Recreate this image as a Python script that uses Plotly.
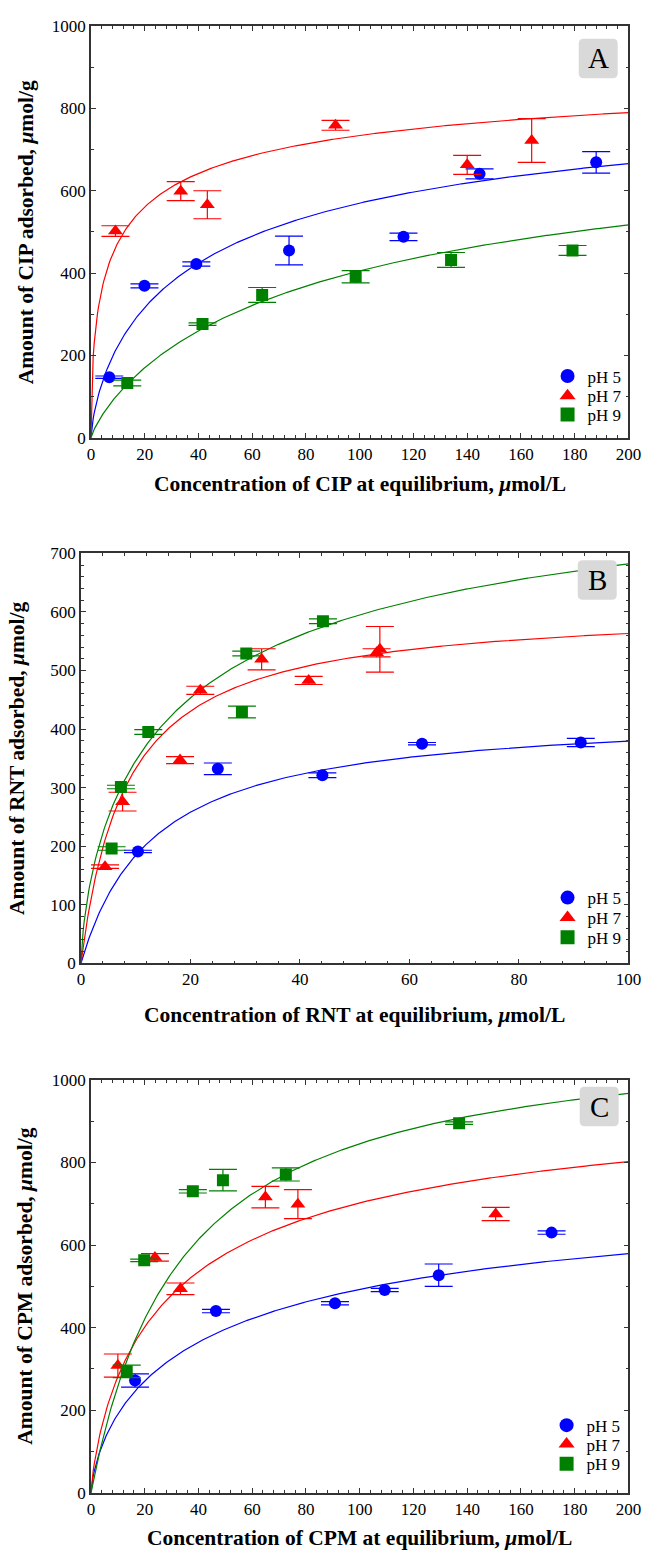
import numpy as np
import plotly.graph_objects as go

W, H = 657, 1565
FONT = "Liberation Serif"
BLUE, RED, GREEN = "#0000ff", "#ff0000", "#008000"

# ---------------- data ----------------
# Panel A: CIP
cip_ph5_x = [6.8, 19.9, 39.2, 73.7, 116.3, 144.6, 188.0]
cip_ph5_y = [147, 369, 422, 455, 488, 641, 669]
cip_ph5_e = [3, 5, 5, 35, 9, 12, 26]
cip_ph7_x = [9.1, 33.4, 43.3, 91.0, 140.0, 164.0]
cip_ph7_y = [502, 599, 566, 759, 663, 722]
cip_ph7_e = [13, 23, 34, 12, 23, 53]
cip_ph9_x = [13.5, 41.5, 63.7, 98.5, 134.0, 179.2]
cip_ph9_y = [133, 276, 347, 391, 432, 455]
cip_ph9_e = [7, 3, 18, 15, 18, 12]

# Panel B: RNT
rnt_ph5_x = [10.4, 25.0, 44.1, 62.3, 91.3]
rnt_ph5_y = [191, 332, 321, 375, 377]
rnt_ph5_e = [2, 10, 4, 2, 7]
rnt_ph7_x = [4.4, 7.6, 18.1, 21.8, 33.0, 41.6, 54.0, 54.6]
rnt_ph7_y = [165, 276, 347, 466, 519, 483, 530, 536]
rnt_ph7_e = [3, 16, 6, 7, 18, 7, 7, 39]
rnt_ph9_x = [5.6, 7.3, 12.3, 29.4, 30.2, 44.2]
rnt_ph9_y = [196, 301, 395, 429, 529, 584]
rnt_ph9_e = [3, 3, 4, 10, 4, 4]

# Panel C: CPM
cpm_ph5_x = [16.4, 46.5, 90.8, 109.3, 129.4, 171.4]
cpm_ph5_y = [272, 440, 459, 491, 527, 630]
cpm_ph5_e = [16, 4, 4, 4, 27, 4]
cpm_ph7_x = [10.0, 23.8, 33.3, 64.9, 77.0, 150.6]
cpm_ph7_y = [308, 570, 494, 716, 699, 675]
cpm_ph7_e = [28, 9, 14, 26, 35, 16]
cpm_ph9_x = [13.3, 19.8, 37.9, 49.1, 72.5, 137.0]
cpm_ph9_y = [294, 563, 730, 757, 771, 895]
cpm_ph9_e = [15, 3, 4, 26, 16, 3]

# fitted isotherm parameters (Langmuir-Freundlich): qmax, K, n  for pH 5, 7, 9
cip_fit = [(900, 0.02137, 0.72), (950, 0.0989, 0.535), (800, 0.01033, 0.83)]
rnt_fit = [(430, 0.075, 1.0), (610, 0.12, 1.0), (900, 0.051, 0.70)]
cpm_fit = [(800, 0.01946, 0.71), (1000, 0.030, 0.78), (1130, 0.0297, 1.0)]

series_labels = ["pH 5", "pH 7", "pH 9"]
panel_letters = ["A", "B", "C"]
x_titles = ["Concentration of CIP at equilibrium, <i>\u03bc</i>mol/L",
            "Concentration of RNT at equilibrium, <i>\u03bc</i>mol/L",
            "Concentration of CPM at equilibrium, <i>\u03bc</i>mol/L"]
y_titles = ["Amount of CIP adsorbed, <i>\u03bc</i>mol/g",
            "Amount of RNT adsorbed, <i>\u03bc</i>mol/g",
            "Amount of CPM adsorbed, <i>\u03bc</i>mol/g"]

# ---------------- layout geometry (pixels) ----------------
panels = [
    dict(l=89.3, r=641, t=17.3, b=434, xmax=200, ymax=1000, xd=20, xm=4, yd=200, ym=100,
         box=(590, 630, 30, 70), legx=558, legy=(372, 392, 411), ytx=22, xty=481),
    dict(l=79, r=641, t=551, b=966, xmax=100, ymax=700, xd=20, xm=4, yd=100, ym=20,
         box=(589, 629, 558, 598), legx=558, legy=(900, 920, 940), ytx=14, xty=1018),
    dict(l=89.3, r=641, t=1084, b=1502, xmax=200, ymax=1000, xd=20, xm=4, yd=200, ym=100,
         box=(591, 631, 1091, 1131), legx=557, legy=(1434, 1453, 1473), ytx=22, xty=1548),
]

def px(x):
    return x / W

def py(y):
    return 1 - y / H

def isotherm(x, qm, k, n):
    kx = np.power(k * x, n)
    return qm * kx / (1 + kx)

data_sets = [
    [(cip_ph5_x, cip_ph5_y, cip_ph5_e), (cip_ph7_x, cip_ph7_y, cip_ph7_e), (cip_ph9_x, cip_ph9_y, cip_ph9_e)],
    [(rnt_ph5_x, rnt_ph5_y, rnt_ph5_e), (rnt_ph7_x, rnt_ph7_y, rnt_ph7_e), (rnt_ph9_x, rnt_ph9_y, rnt_ph9_e)],
    [(cpm_ph5_x, cpm_ph5_y, cpm_ph5_e), (cpm_ph7_x, cpm_ph7_y, cpm_ph7_e), (cpm_ph9_x, cpm_ph9_y, cpm_ph9_e)],
]
fits = [cip_fit, rnt_fit, cpm_fit]
colors = [BLUE, RED, GREEN]
symbols = ["circle", "triangle-up", "square"]
msizes = [12, 13, 12]

fig = go.Figure()
layout = dict(width=W, height=H, margin=dict(l=0, r=0, t=0, b=0),
              paper_bgcolor="white", plot_bgcolor="white",
              font=dict(family=FONT, size=16, color="black"),
              shapes=[], annotations=[])

leg_count = 0
for p, pan in enumerate(panels):
    sfx = "" if p == 0 else str(p + 1)
    xa, ya = "x" + sfx, "y" + sfx
    # fitted curves
    for s in range(3):
        qm, k, n = fits[p][s]
        xc = np.linspace(0, pan["xmax"], 500)
        fig.add_trace(go.Scatter(x=xc, y=isotherm(xc, qm, k, n), mode="lines",
                                 line=dict(color=colors[s], width=1.2),
                                 xaxis=xa, yaxis=ya, showlegend=False, hoverinfo="skip"))
    # data points with error bars
    for s in range(3):
        xs, ys, es = data_sets[p][s]
        fig.add_trace(go.Scatter(x=xs, y=ys, mode="markers",
                                 marker=dict(color=colors[s], symbol=symbols[s], size=msizes[s]),
                                 error_y=dict(type="data", array=es, visible=True,
                                              color=colors[s], thickness=1.2, width=14),
                                 xaxis=xa, yaxis=ya, showlegend=False))
    # legend entries: one legend per item for exact row spacing
    for s in range(3):
        leg_count += 1
        lname = "legend" if leg_count == 1 else f"legend{leg_count}"
        fig.add_trace(go.Scatter(x=[None], y=[None], mode="markers", name=series_labels[s],
                                 marker=dict(color=colors[s], symbol=symbols[s], size=14),
                                 xaxis=xa, yaxis=ya, showlegend=True, legend=lname))
        layout[lname] = dict(x=px(pan["legx"]), y=py(pan["legy"][s]), xanchor="left", yanchor="middle",
                             bgcolor="rgba(0,0,0,0)", borderwidth=0,
                             font=dict(family=FONT, size=17, color="black"),
                             itemwidth=30)
    axis_common = dict(showline=True, linecolor="#333333", linewidth=1.5, mirror="allticks",
                       ticks="inside", ticklen=5, tickwidth=1, tickcolor="#333333",
                       showgrid=False, zeroline=False, ticklabeloverflow="allow",
                       tickfont=dict(family=FONT, size=17, color="black"))
    layout["xaxis" + sfx] = dict(axis_common, domain=[px(pan["l"]), px(pan["r"])],
                                 range=[0, pan["xmax"]], dtick=pan["xd"], tick0=0, anchor=ya,
                                 minor=dict(dtick=pan["xm"], ticks="inside", ticklen=3,
                                            tickcolor="#333333", showgrid=False))
    layout["yaxis" + sfx] = dict(axis_common, domain=[py(pan["b"]), py(pan["t"])],
                                 range=[0, pan["ymax"]], dtick=pan["yd"], tick0=0, anchor=xa,
                                 minor=dict(dtick=pan["ym"], ticks="inside", ticklen=3,
                                            tickcolor="#333333", showgrid=False))
    # panel letter box (rounded)
    x0, x1, y0, y1 = pan["box"]
    r = 5
    path = (f"M {px(x0 + r)},{py(y0)} L {px(x1 - r)},{py(y0)} Q {px(x1)},{py(y0)} {px(x1)},{py(y0 + r)} "
            f"L {px(x1)},{py(y1 - r)} Q {px(x1)},{py(y1)} {px(x1 - r)},{py(y1)} "
            f"L {px(x0 + r)},{py(y1)} Q {px(x0)},{py(y1)} {px(x0)},{py(y1 - r)} "
            f"L {px(x0)},{py(y0 + r)} Q {px(x0)},{py(y0)} {px(x0 + r)},{py(y0)} Z")
    layout["shapes"].append(dict(type="path", xref="paper", yref="paper", path=path,
                                 fillcolor="#d9d9d9", line=dict(width=0), layer="above"))
    layout["annotations"].append(dict(x=px((x0 + x1) / 2), y=py((y0 + y1) / 2), xref="paper", yref="paper",
                                      text=panel_letters[p], showarrow=False,
                                      font=dict(family=FONT, size=29, color="black"),
                                      xanchor="center", yanchor="middle"))
    # axis titles
    layout["annotations"].append(dict(x=px((pan["l"] + pan["r"]) / 2), y=py(pan["xty"]),
                                      xref="paper", yref="paper", text="<b>" + x_titles[p] + "</b>",
                                      showarrow=False, xanchor="center", yanchor="middle",
                                      font=dict(family=FONT, size=21.5, color="black")))
    layout["annotations"].append(dict(x=px(pan["ytx"]), y=py((pan["t"] + pan["b"]) / 2),
                                      xref="paper", yref="paper", text="<b>" + y_titles[p] + "</b>",
                                      showarrow=False, xanchor="center", yanchor="middle", textangle=-90,
                                      font=dict(family=FONT, size=21.5, color="black")))

fig.update_layout(**layout)
fig.write_html("out.html")
